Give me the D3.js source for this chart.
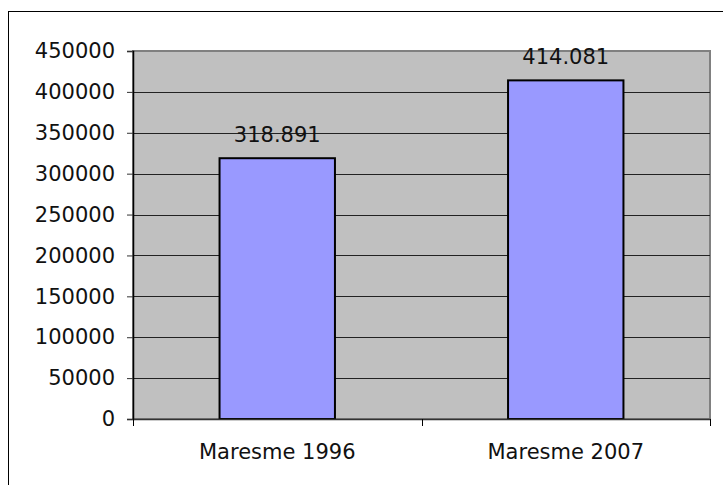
<!DOCTYPE html>
<html lang="es">
<head>
    <meta charset="UTF-8">
    <title>Maresme 1996 - 2007</title>
    <script src="https://d3js.org/d3.v7.min.js"></script>
    <style>
        body { margin: 0; background: #fff; }
        svg { display: block; font-family: "DejaVu Sans", Verdana, sans-serif; }
    </style>
</head>
<body>
    <svg width="723" height="485"></svg>

    <script>
        const categories = ["Maresme 1996", "Maresme 2007"];
        const values = [318891, 414081];
        const valueLabels = ["318.891", "414.081"];
        const yTicks = [0, 50000, 100000, 150000, 200000, 250000, 300000, 350000, 400000, 450000];

        const svg = d3.select("svg");
        const margin = { top: 51, right: 13, bottom: 66, left: 133 };
        const width = +svg.attr("width");
        const height = +svg.attr("height");
        const x0 = margin.left, x1 = width - margin.right;
        const y0 = height - margin.bottom, y1 = margin.top;
        const fontSize = 21;

        // marco exterior
        svg.append("rect")
            .attr("x", 8.5).attr("y", 11.5)
            .attr("width", 730).attr("height", 490)
            .attr("fill", "#fff").attr("stroke", "#000");

        const x = d3.scaleBand()
            .domain(categories)
            .range([x0, x1])
            .paddingInner(0.6)
            .paddingOuter(0.3);

        const y = d3.scaleLinear()
            .domain([0, 450000])
            .range([y0, y1]);

        // fondo del area de trazado
        svg.append("rect")
            .attr("x", x0).attr("y", y1)
            .attr("width", x1 - x0).attr("height", y0 - y1)
            .attr("fill", "#c0c0c0")
            .attr("stroke", "#808080").attr("stroke-width", 2);

        // lineas de cuadricula
        svg.append("g")
            .selectAll("line")
            .data(yTicks.slice(1, -1))
            .join("line")
            .attr("x1", x0).attr("x2", x1)
            .attr("y1", d => Math.round(y(d)) + 0.5)
            .attr("y2", d => Math.round(y(d)) + 0.5)
            .attr("stroke", "#222");

        // barras
        svg.append("g")
            .selectAll("rect")
            .data(values)
            .join("rect")
            .attr("x", (d, i) => x(categories[i]))
            .attr("y", d => y(d))
            .attr("width", x.bandwidth())
            .attr("height", d => y0 - y(d))
            .attr("fill", "#9999ff")
            .attr("stroke", "#000")
            .attr("stroke-width", 2);

        // etiquetas de valores
        svg.append("g")
            .selectAll("text")
            .data(values)
            .join("text")
            .attr("x", (d, i) => x(categories[i]) + x.bandwidth() / 2)
            .attr("y", d => y(d) - 16)
            .attr("text-anchor", "middle")
            .attr("font-size", fontSize)
            .attr("fill", "#111")
            .text((d, i) => valueLabels[i]);

        // eje Y
        const yAxis = svg.append("g")
            .attr("transform", `translate(${x0},0)`)
            .call(d3.axisLeft(y).tickValues(yTicks).tickFormat(d3.format("d")).tickSize(6).tickPadding(12));
        yAxis.select(".domain").attr("stroke", "#000").attr("stroke-width", 1.5);
        yAxis.selectAll(".tick line").attr("stroke", "#333");
        yAxis.selectAll("text").attr("font-size", fontSize).attr("fill", "#111")
            .attr("font-family", "DejaVu Sans, Verdana, sans-serif");

        // eje X
        const xAxis = svg.append("g")
            .attr("transform", `translate(0,${y0})`)
            .call(d3.axisBottom(x).tickSize(0).tickPadding(25));
        xAxis.select(".domain").attr("stroke", "#333").attr("stroke-width", 1.5);
        xAxis.selectAll("text").attr("font-size", fontSize).attr("fill", "#111")
            .attr("font-family", "DejaVu Sans, Verdana, sans-serif");

        // marcas entre categorias
        const boundaries = [x0, x0 + (x1 - x0) / 2, x1];
        svg.append("g")
            .selectAll("line")
            .data(boundaries)
            .join("line")
            .attr("x1", d => Math.round(d) + 0.5).attr("x2", d => Math.round(d) + 0.5)
            .attr("y1", y0).attr("y2", y0 + 7)
            .attr("stroke", "#000");
    </script>
</body>
</html>
